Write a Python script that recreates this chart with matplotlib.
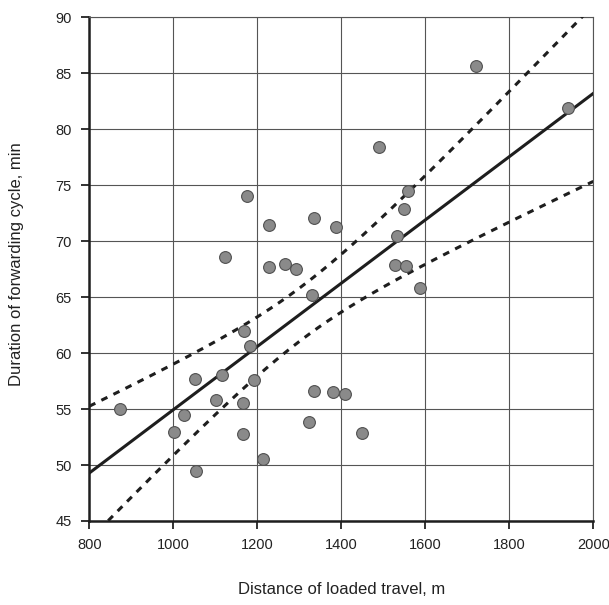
import numpy as np
import matplotlib
matplotlib.use("Agg")
import matplotlib.pyplot as plt
from matplotlib import font_manager

# ---- data ----
distance = [872, 1002, 1025, 1052, 1053, 1102, 1116, 1122, 1165, 1167, 1169, 1176,
            1183, 1191, 1214, 1228, 1229, 1265, 1291, 1324, 1331, 1334, 1336, 1380,
            1387, 1410, 1449, 1490, 1529, 1532, 1550, 1553, 1560, 1587, 1721, 1940]
duration = [55.0, 52.95, 54.5, 57.7, 49.5, 55.8, 58.0, 68.6, 55.5, 52.8, 62.0, 74.0,
            60.65, 57.6, 50.55, 67.7, 71.4, 68.0, 67.5, 53.8, 65.2, 72.05, 56.6, 56.55,
            71.3, 56.35, 52.85, 78.4, 67.9, 70.5, 72.9, 67.75, 74.45, 65.8, 85.65, 81.9]
x_ticks = [800, 1000, 1200, 1400, 1600, 1800, 2000]
y_ticks = [45, 50, 55, 60, 65, 70, 75, 80, 85, 90]
x_label = "Distance of loaded travel, m"
y_label = "Duration of forwarding cycle, min"
t_crit = 2.032  # Student t, 95 %, df = n - 2

names = {f.name for f in font_manager.fontManager.ttflist}
narrow = "Liberation Sans Narrow" in names
fam = "Liberation Sans Narrow" if narrow else "Liberation Sans"
plt.rcParams["font.family"] = [fam, "DejaVu Sans"]
tick_fs = 12.5 if narrow else 10.5
lab_fs = 14 if narrow else 12

x = np.asarray(distance, float)
y = np.asarray(duration, float)
n = len(x)
b1, b0 = np.polyfit(x, y, 1)
resid = y - (b0 + b1 * x)
s = np.sqrt(np.sum(resid ** 2) / (n - 2))
sxx = np.sum((x - x.mean()) ** 2)
xs = np.linspace(x_ticks[0], x_ticks[-1], 300)
yhat = b0 + b1 * xs
half = t_crit * s * np.sqrt(1.0 / n + (xs - x.mean()) ** 2 / sxx)

fig = plt.figure(figsize=(6.09, 6.05), dpi=100)
ax = fig.add_axes([89.3 / 609, 1 - 521 / 605, (593.3 - 89.3) / 609, (521 - 17.3) / 605])

ax.grid(True, color="#555555", lw=0.8)
ax.set_axisbelow(True)

ax.plot(xs, yhat, color="#1e1e1e", lw=2.2, zorder=3)
ax.plot(xs, yhat + half, color="#1e1e1e", lw=2.2, ls=(0, (2.2, 2.2)), zorder=3)
ax.plot(xs, yhat - half, color="#1e1e1e", lw=2.2, ls=(0, (2.2, 2.2)), zorder=3)
ax.scatter(x, y, s=72, facecolor="#8a8a8a", edgecolor="#505050", linewidth=0.8, zorder=4)

ax.set_xlim(x_ticks[0], x_ticks[-1])
ax.set_ylim(y_ticks[0], y_ticks[-1])
ax.set_xticks(x_ticks)
ax.set_yticks(y_ticks)
ax.tick_params(direction="out", length=5.5, width=1.3, labelsize=tick_fs,
               colors="#222222", pad=7)
for sp in ("left", "bottom"):
    ax.spines[sp].set_linewidth(1.8)
    ax.spines[sp].set_color("#1e1e1e")
for sp in ("top", "right"):
    ax.spines[sp].set_linewidth(0.8)
    ax.spines[sp].set_color("#555555")

fig.text((89.3 + 593.3) / 2 / 609, 1 - 590 / 605, x_label, ha="center", va="center",
         fontsize=lab_fs, color="#222222")
fig.text(17 / 609, 1 - 264 / 605, y_label, ha="center", va="center", rotation=90,
         fontsize=lab_fs, color="#222222")

fig.savefig("out.png", dpi=100, facecolor="white")
